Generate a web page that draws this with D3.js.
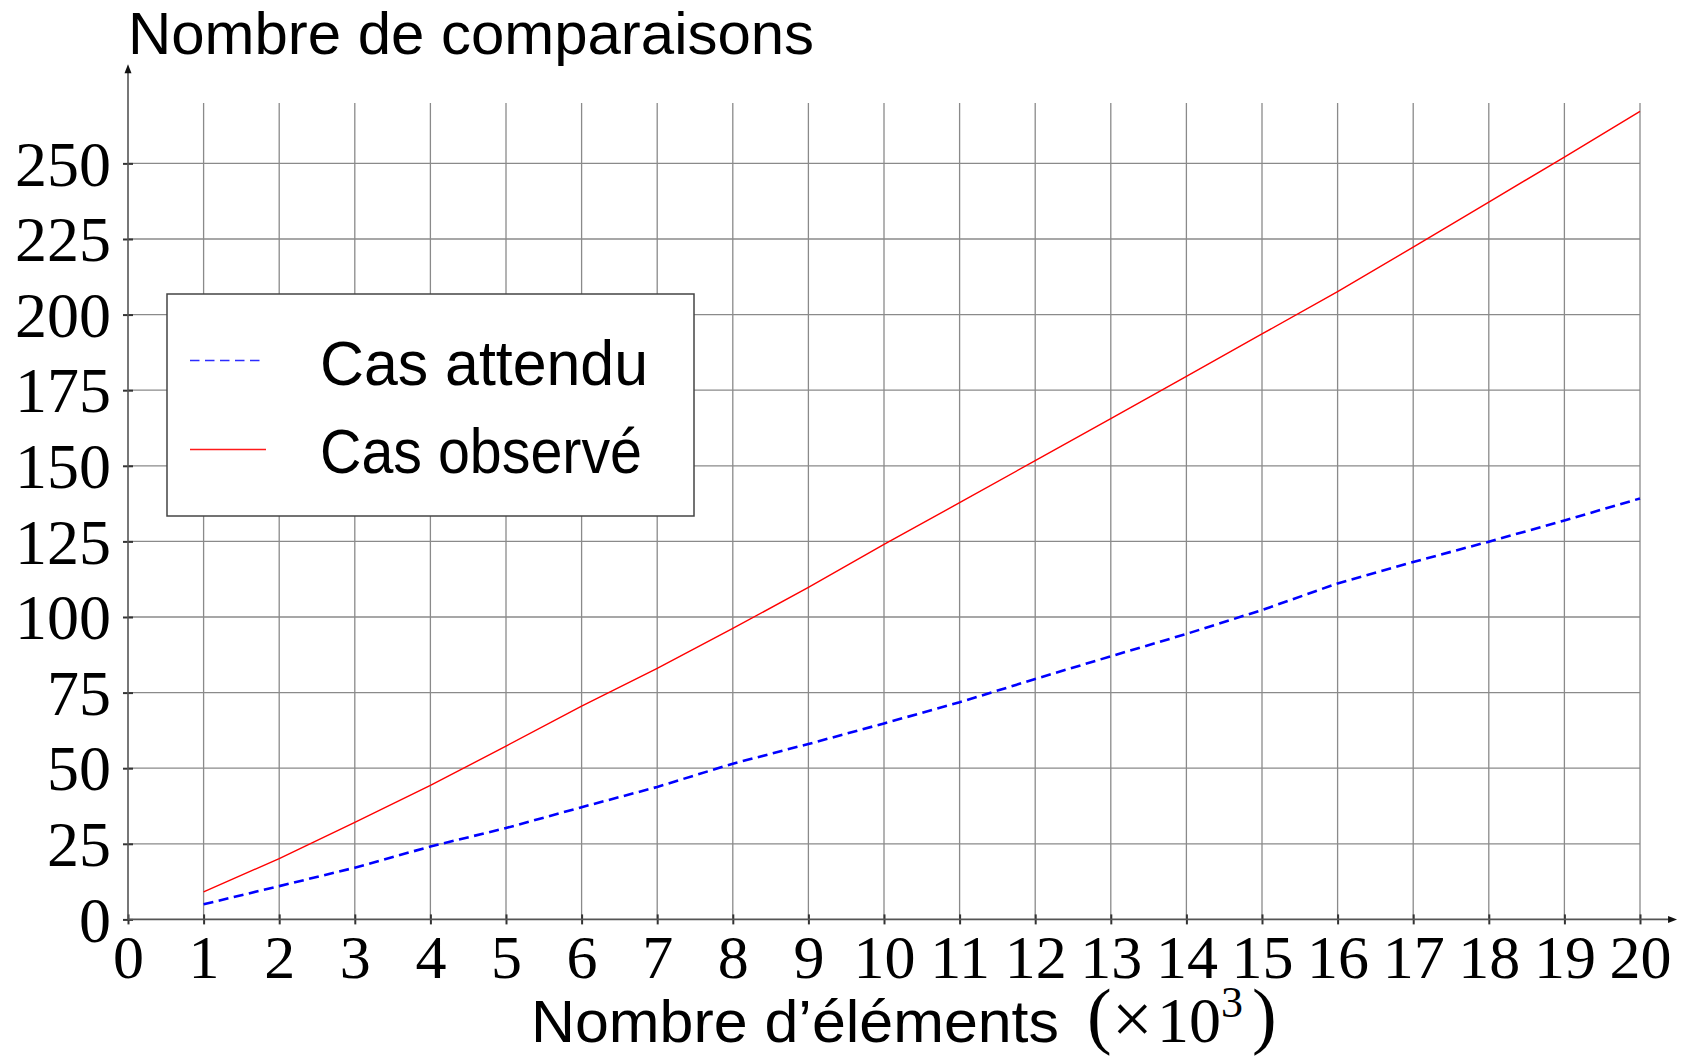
<!DOCTYPE html>
<html lang="fr">
<head>
<meta charset="utf-8">
<title>Nombre de comparaisons</title>
<script src="https://cdn.jsdelivr.net/npm/d3@7"></script>
<style>
  html, body { margin: 0; padding: 0; background: #fff; }
  svg { display: block; }
</style>
</head>
<body>
<svg id="chart" width="1686" height="1058"></svg>
<script>
// Nombre d'éléments (en milliers)
const elements = [1, 2, 3, 4, 5, 6, 7, 8, 9, 10, 11, 12, 13, 14, 15, 16, 17, 18, 19, 20];
// Nombre de comparaisons, cas attendu
const casAttendu = [5.0, 11.0, 17.1, 24.1, 30.2, 37.1, 43.8, 51.5, 58.0, 64.8,
                    71.8, 79.5, 87.0, 94.4, 102.3, 111.1, 118.2, 124.9, 131.9, 139.2];
// Nombre de comparaisons, cas observé
const casObserve = [9.1, 20.1, 32.1, 44.3, 57.3, 70.5, 83.0, 96.2, 109.8, 124.0,
                    137.8, 151.7, 165.6, 179.6, 193.6, 207.6, 222.3, 237.2, 252.1, 267.2];
const xTicks = [0, 1, 2, 3, 4, 5, 6, 7, 8, 9, 10, 11, 12, 13, 14, 15, 16, 17, 18, 19, 20];
const yTicks = [0, 25, 50, 75, 100, 125, 150, 175, 200, 225, 250];
const seriesNames = ["Cas attendu", "Cas observé"];

const svg = d3.select("#chart");
const SANS = "'Liberation Sans', Arial, sans-serif";
const SERIF = "'Liberation Serif', 'Times New Roman', serif";

const x = d3.scaleLinear().domain([0, 20]).range([128, 1640]);
const y = d3.scaleLinear().domain([0, 270]).range([919.4, 102.9]);
const x0 = x(0), y0 = y(0);

// Grille
const grid = svg.append("g").attr("stroke", "#8a8a8a").attr("stroke-width", 1.3);
grid.selectAll("line.v").data(xTicks.filter(d => d > 0)).join("line")
  .attr("class", "v")
  .attr("x1", d => x(d)).attr("x2", d => x(d))
  .attr("y1", y(0)).attr("y2", y(270));
grid.selectAll("line.h").data(yTicks.filter(d => d > 0)).join("line")
  .attr("class", "h")
  .attr("x1", x(0)).attr("x2", x(20))
  .attr("y1", d => y(d)).attr("y2", d => y(d));

// Axes (lignes centrales avec flèches)
const axisG = svg.append("g");
const xAxis = d3.axisBottom(x).tickValues(xTicks).tickFormat(d3.format("d")).tickSizeOuter(0);
const yAxis = d3.axisLeft(y).tickValues(yTicks).tickFormat(d3.format("d")).tickSizeOuter(0);

const gx = axisG.append("g").attr("transform", `translate(0,${y0})`).call(xAxis);
gx.select(".domain").remove();
gx.selectAll(".tick line").attr("y1", -5).attr("y2", 5).attr("stroke", "#333").attr("stroke-width", 2);
gx.selectAll(".tick text")
  .attr("y", 58.6).attr("dy", 0)
  .attr("font-family", SERIF).attr("font-size", 62).attr("fill", "#000");

const gy = axisG.append("g").attr("transform", `translate(${x0},0)`).call(yAxis);
gy.select(".domain").remove();
gy.selectAll(".tick line").attr("x1", -5).attr("x2", 5).attr("stroke", "#333").attr("stroke-width", 2);
gy.selectAll(".tick text")
  .attr("x", -17).attr("dy", "0.34em")
  .attr("font-family", SERIF).attr("font-size", 64).attr("fill", "#000");
gx.attr("font-family", null).attr("font-size", null);
gy.attr("font-family", null).attr("font-size", null);

// Lignes d'axe
const xEnd = x(20.49), yEnd = y(282.8);
axisG.append("line").attr("x1", x0).attr("x2", xEnd - 6).attr("y1", y0).attr("y2", y0)
  .attr("stroke", "#555").attr("stroke-width", 1.6);
axisG.append("line").attr("x1", x0).attr("x2", x0).attr("y1", y0).attr("y2", yEnd + 6)
  .attr("stroke", "#555").attr("stroke-width", 1.6);
axisG.append("path")
  .attr("d", `M${xEnd},${y0} L${xEnd - 9},${y0 - 3.5} L${xEnd - 9},${y0 + 3.5} Z`)
  .attr("fill", "#111");
axisG.append("path")
  .attr("d", `M${x0},${yEnd} L${x0 - 3.5},${yEnd + 9} L${x0 + 3.5},${yEnd + 9} Z`)
  .attr("fill", "#111");

// Courbes
const line = d3.line().x((d, i) => x(elements[i])).y(d => y(d));
svg.append("path").datum(casAttendu)
  .attr("d", line).attr("fill", "none")
  .attr("stroke", "#0000ff").attr("stroke-width", 2.6)
  .attr("stroke-dasharray", "10,5.5");
svg.append("path").datum(casObserve)
  .attr("d", line).attr("fill", "none")
  .attr("stroke", "#ff0000").attr("stroke-width", 1.4);

// Légende
const legend = svg.append("g");
legend.append("rect")
  .attr("x", 167).attr("y", 294).attr("width", 527).attr("height", 222)
  .attr("fill", "#fff").attr("stroke", "#444").attr("stroke-width", 1.5);
const legendStyles = [
  { color: "#2b2bff", width: 1.6, dash: "9.5,5.5", lineY: 360.5, textY: 385, len: 328 },
  { color: "#ff1a1a", width: 1.5, dash: null, lineY: 449.5, textY: 473, len: 322 }
];
seriesNames.forEach((name, i) => {
  const s = legendStyles[i];
  legend.append("line")
    .attr("x1", 190).attr("x2", i === 0 ? 264 : 266)
    .attr("y1", s.lineY).attr("y2", s.lineY)
    .attr("stroke", s.color).attr("stroke-width", s.width)
    .attr("stroke-dasharray", s.dash);
  legend.append("text")
    .attr("x", 320).attr("y", s.textY)
    .attr("font-family", SANS).attr("font-size", 63)
    .attr("textLength", s.len).attr("lengthAdjust", "spacingAndGlyphs")
    .text(name);
});

// Titre de l'axe des ordonnées
svg.append("text")
  .attr("x", 128).attr("y", 54)
  .attr("font-family", SANS).attr("font-size", 60)
  .attr("textLength", 686).attr("lengthAdjust", "spacingAndGlyphs")
  .text("Nombre de comparaisons");

// Titre de l'axe des abscisses
const xl = svg.append("g");
xl.append("text")
  .attr("x", 531).attr("y", 1042)
  .attr("font-family", SANS).attr("font-size", 60)
  .attr("textLength", 528).attr("lengthAdjust", "spacingAndGlyphs")
  .text("Nombre d’éléments");
xl.append("text").attr("x", 1087).attr("y", 1040)
  .attr("font-family", SERIF).attr("font-size", 74).text("(");
xl.append("text").attr("x", 1112).attr("y", 1043)
  .attr("font-family", SERIF).attr("font-size", 72).text("×");
xl.append("text").attr("x", 1157).attr("y", 1042)
  .attr("font-family", SERIF).attr("font-size", 64).text("10");
xl.append("text").attr("x", 1221).attr("y", 1017)
  .attr("font-family", SERIF).attr("font-size", 44).text("3");
xl.append("text").attr("x", 1252).attr("y", 1040)
  .attr("font-family", SERIF).attr("font-size", 74).text(")");
</script>
</body>
</html>
